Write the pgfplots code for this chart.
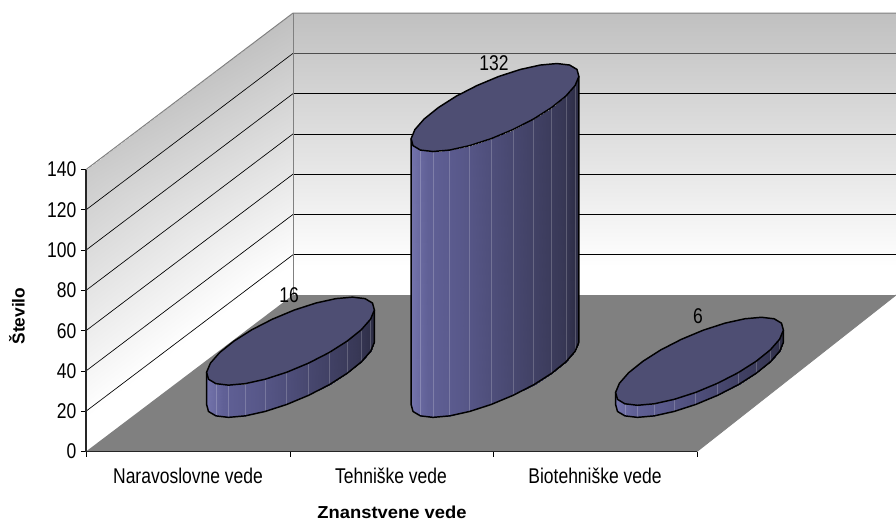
\documentclass[border=0pt]{standalone}
\usepackage{pgfplots}
\usepackage{pgfplotstable}
\usepackage{fontspec}
\pgfplotsset{compat=1.18}
\setmainfont[FakeStretch=0.82]{Liberation Sans}
\newfontfamily\lblfont[Scale=1.0]{Liberation Sans}
\newfontfamily\lblwide[FakeStretch=1.06]{Liberation Sans}
\pgfplotsset{
 colormap={wallmap}{rgb255(0pt)=(255,255,255) rgb255(1pt)=(255,255,255) rgb255(10pt)=(192,192,192)},
 colormap={cylmap}{rgb255(0pt)=(116,116,172) rgb255(1pt)=(96,96,150) rgb255(3pt)=(88,88,138) rgb255(6pt)=(72,72,112) rgb255(9pt)=(56,56,86) rgb255(10pt)=(44,44,68)}
}
% outline of one top or bottom face (offsets from the centre)
\pgfplotstableread{
dx dy
62 21.85
45.3 21.11
25.4 18.92
3.8 15.45
-18 10.93
-38.7 5.66
-56.6 0
-70.8 -5.66
-80.1 -10.93
-83.9 -15.45
-82 -18.92
-74.6 -21.11
-62 -21.85
-45.3 -21.11
-25.4 -18.92
-3.8 -15.45
18 -10.93
38.7 -5.66
56.6 0
70.8 5.66
80.1 10.93
83.9 15.45
82 18.92
74.6 21.11
62 21.85
}\faceoutline
% side strips, f=0 at the base and f=1 at the value
\pgfplotstableread{
dx dy f
-83.9 -15.45 0
-82 -18.92 0
-82 -18.92 1
-83.9 -15.45 1
-82 -18.92 0
-74.6 -21.11 0
-74.6 -21.11 1
-82 -18.92 1
-74.6 -21.11 0
-62 -21.85 0
-62 -21.85 1
-74.6 -21.11 1
-62 -21.85 0
-45.3 -21.11 0
-45.3 -21.11 1
-62 -21.85 1
-45.3 -21.11 0
-25.4 -18.92 0
-25.4 -18.92 1
-45.3 -21.11 1
-25.4 -18.92 0
-3.8 -15.45 0
-3.8 -15.45 1
-25.4 -18.92 1
-3.8 -15.45 0
18 -10.93 0
18 -10.93 1
-3.8 -15.45 1
18 -10.93 0
38.7 -5.66 0
38.7 -5.66 1
18 -10.93 1
38.7 -5.66 0
56.6 0 0
56.6 0 1
38.7 -5.66 1
56.6 0 0
70.8 5.66 0
70.8 5.66 1
56.6 0 1
70.8 5.66 0
80.1 10.93 0
80.1 10.93 1
70.8 5.66 1
80.1 10.93 0
83.9 15.45 0
83.9 15.45 1
80.1 10.93 1
}\sidestrips
\pgfplotstableread{
dx dy f
-83.9 -15.45 1
-83.9 -15.45 0
-82 -18.92 0
-74.6 -21.11 0
-62 -21.85 0
-45.3 -21.11 0
-25.4 -18.92 0
-3.8 -15.45 0
18 -10.93 0
38.7 -5.66 0
56.6 0 0
70.8 5.66 0
80.1 10.93 0
83.9 15.45 0
83.9 15.45 1
}\sideoutline
\pgfplotstableread{
dx dy f
-74.6 -21.11 0
-74.6 -21.11 1
nan nan nan
-62 -21.85 0
-62 -21.85 1
nan nan nan
-45.3 -21.11 0
-45.3 -21.11 1
nan nan nan
-25.4 -18.92 0
-25.4 -18.92 1
nan nan nan
-3.8 -15.45 0
-3.8 -15.45 1
nan nan nan
18 -10.93 0
18 -10.93 1
nan nan nan
38.7 -5.66 0
38.7 -5.66 1
nan nan nan
56.6 0 0
56.6 0 1
nan nan nan
70.8 5.66 0
70.8 5.66 1
nan nan nan
80.1 10.93 0
80.1 10.93 1
}\sidelines
\pgfplotstableread{
x y c
86 0 -84
293 77.7 -84
293 217.7 84
86 140 59
293 77.7 -84
896 77.7 -84
896 217.7 84
293 217.7 84
}\walls
\newcommand{\cyl}[3]{% centre x, base y, value
 \addplot[patch,patch type=rectangle,shader=interp,colormap name=cylmap,
   point meta=\thisrow{dx}]
   table[x expr={#1+\thisrow{dx}},y expr={#2+\thisrow{dy}+\thisrow{f}*#3}]{\sidestrips};
 \addplot[white,opacity=0.2,line width=0.4pt,unbounded coords=jump]
   table[x expr={#1+\thisrow{dx}},y expr={#2+\thisrow{dy}+\thisrow{f}*#3}]{\sidelines};
 \addplot[black,line width=1.1pt,line join=round]
   table[x expr={#1+\thisrow{dx}},y expr={#2+\thisrow{dy}+\thisrow{f}*#3}]{\sideoutline};
 \addplot[black,line width=1.1pt,fill={rgb,255:red,78;green,78;blue,115},line join=round]
   table[x expr={#1+\thisrow{dx}},y expr={#2+\thisrow{dy}+#3}]{\faceoutline};
}
\begin{document}
\begin{tikzpicture}
\useasboundingbox (0,0) rectangle (672pt,391.5pt);
\begin{axis}[
 at={(64.5pt,52.875pt)},anchor=south west,
 scale only axis,width=607.5pt,height=338.625pt,
 xmin=86,xmax=896,ymin=0,ymax=224.2,
 clip=false,
 point meta min=-84,point meta max=84,
 axis lines=left,axis line style={draw=none,-},
 tick align=outside,major tick length=3.75pt,tick style={black,line width=0.6pt},
 xtick={86,290,493,697},xticklabels={},
 extra x ticks={188,391,595},
 extra x tick labels={Naravoslovne vede,Tehniške vede,Biotehniške vede},
 extra x tick style={major tick length=0pt,tick style={draw=none},
   tick label style={yshift=-8.5pt}},
 ytick={0,20,...,140},
 /pgf/number format/assume math mode=true,
 tick label style={font=\fontsize{16}{18}\selectfont},
 ylabel={\lblfont\bfseries Število},
 xlabel={\lblwide\bfseries Znanstvene vede},
 label style={font=\fontsize{13}{15}\selectfont},
 xlabel style={at={(axis description cs:0.3778,-0.135)},anchor=center},
 ylabel style={at={(axis description cs:-0.0852,0.300)},anchor=center},
]
\addplot[patch,patch type=rectangle,shader=interp,colormap name=wallmap,
  point meta=\thisrow{c}] table[x=x,y=y]{\walls};
\addplot[fill={rgb,255:red,128;green,128;blue,128},draw=none] coordinates {(86,0)(697,0)(896,77.7)(293,77.7)} --cycle;
% back wall gridlines
\addplot[black,line width=0.5pt] coordinates {(293,97.7)(896,97.7)};
\addplot[black,line width=0.5pt] coordinates {(293,117.7)(896,117.7)};
\addplot[black,line width=0.5pt] coordinates {(293,137.7)(896,137.7)};
\addplot[black,line width=0.5pt] coordinates {(293,157.7)(896,157.7)};
\addplot[black,line width=0.5pt] coordinates {(293,177.7)(896,177.7)};
\addplot[black!70,line width=0.7pt] coordinates {(293,197.7)(896,197.7)};
% side wall gridlines
\addplot[black,line width=0.5pt] coordinates {(86,20)(293,97.7)};
\addplot[black,line width=0.5pt] coordinates {(86,40)(293,117.7)};
\addplot[black,line width=0.5pt] coordinates {(86,60)(293,137.7)};
\addplot[black,line width=0.5pt] coordinates {(86,80)(293,157.7)};
\addplot[black,line width=0.5pt] coordinates {(86,100)(293,177.7)};
\addplot[black,line width=0.5pt] coordinates {(86,120)(293,197.7)};
% frame
\addplot[gray,line width=0.75pt] coordinates {(86,140)(293,217.7)(896,217.7)};
\addplot[gray,line width=0.75pt] coordinates {(293,217.7)(293,77.7)};
\addplot[gray,line width=0.6pt] coordinates {(697,0)(896,77.7)};
% axis lines
\addplot[black!85,line width=0.8pt] coordinates {(86,0)(86,140)};
\addplot[black!85,line width=0.8pt] coordinates {(86,0)(697,0)};
% columns
\cyl{290.5}{38.8}{16}
\cyl{495}{38.8}{132}
\cyl{699.5}{38.8}{6}
\node[font=\fontsize{16}{18}\selectfont,black] at (axis cs:494,192.8) {132};
\node[font=\fontsize{16}{18}\selectfont,black] at (axis cs:289,77.5) {16};
\node[font=\fontsize{16}{18}\selectfont,black] at (axis cs:698,67) {6};
\end{axis}
\end{tikzpicture}
\end{document}
